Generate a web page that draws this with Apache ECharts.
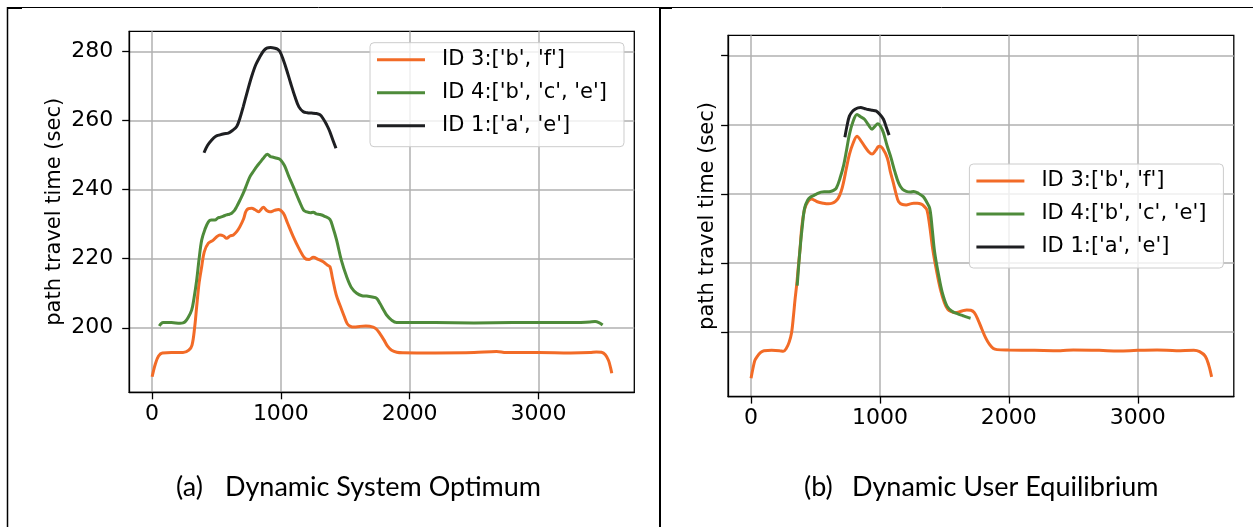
<!DOCTYPE html>
<html>
<head>
<meta charset="utf-8">
<script src="https://cdn.jsdelivr.net/npm/echarts@6/dist/echarts.min.js"></script>
<style>
  html, body { margin: 0; padding: 0; background: #fff; }
  #main { width: 1253px; height: 527px; }
</style>
</head>
<body>
<div id="main"></div>
<script>
// Axis ticks and labels
const xTicks = [0, 1000, 2000, 3000];
const yTicks = [200, 220, 240, 260, 280];
const pathNames = ["ID 3:['b', 'f']", "ID 4:['b', 'c', 'e']", "ID 1:['a', 'e']"];
const captionTags = ['(a)', '(b)'];
const captionTitles = ['Dynamic System Optimum', 'Dynamic User Equilibrium'];
const yName = 'path travel time (sec)';

// (a) Dynamic System Optimum: [departure time, path travel time]
const soPath3 = [
  [0, 185.8], [25, 189.5], [50, 191.8], [80, 192.7], [150, 192.8], [240, 192.8], [285, 193.5],
  [310, 195], [330, 200], [346, 206.1], [365, 213], [385, 217.7], [405, 222], [437, 224.5],
  [475, 225.4], [500, 226.3], [527, 226.9], [555, 226.6], [579, 225.9], [605, 226.6], [631, 226.9],
  [660, 228], [682, 229.3], [710, 231.5], [734, 234.1], [773, 234.6], [800, 234.2], [825, 233.6],
  [864, 234.9], [890, 234.0], [915, 233.6], [950, 234.0], [980, 234.3], [1019, 233.2], [1050, 230.5],
  [1096, 226.4], [1140, 223], [1187, 220.1], [1220, 219.8], [1252, 220.4], [1290, 219.8], [1329, 219.1],
  [1360, 218.2], [1381, 217.7], [1400, 214.5], [1430, 209.5], [1459, 206.5], [1490, 203.5], [1515, 201.2],
  [1536, 200.5], [1570, 200.2], [1614, 200.4], [1660, 200.5], [1717, 200.2], [1745, 199.5], [1769, 198.3],
  [1800, 196.5], [1830, 194.6], [1860, 193.5], [1900, 192.9], [1950, 192.75], [2200, 192.7], [2500, 192.8],
  [2675, 193.1], [2750, 192.8], [3000, 192.8], [3250, 192.7], [3400, 192.8], [3450, 193.0], [3490, 192.9],
  [3520, 192.2], [3545, 190.5], [3560, 188.5], [3570, 186.8]
];
const soPath4 = [
  [56, 200.5], [70, 201.2], [87, 201.5], [150, 201.5], [217, 201.3], [240, 201.4], [255, 201.7],
  [280, 203], [307, 205.1], [325, 208.5], [346, 213.8], [365, 220], [385, 225.4], [410, 228.5],
  [437, 230.7], [460, 231.2], [488, 231.2], [510, 231.8], [527, 232], [550, 232.3], [579, 232.7],
  [600, 232.9], [618, 233.2], [640, 234], [657, 235.1], [680, 236.8], [708, 239], [735, 241.5],
  [760, 243.8], [790, 245.5], [812, 246.7], [840, 248], [864, 249.1], [895, 250.3], [920, 249.6],
  [941, 249.4], [970, 249.1], [993, 248.8], [1015, 247.8], [1032, 246.7], [1060, 244], [1096, 240.9],
  [1140, 237], [1176, 234.1], [1200, 233.6], [1230, 233.3], [1252, 233.5], [1275, 233], [1304, 232.8],
  [1340, 232.3], [1381, 231.4], [1405, 229], [1433, 225.4], [1470, 219.5], [1511, 214.8], [1550, 211.5],
  [1589, 210], [1630, 209.3], [1666, 209.2], [1710, 208.9], [1744, 208.5], [1770, 207], [1800, 205],
  [1821, 203.7], [1860, 202.2], [1899, 201.5], [1950, 201.5], [2200, 201.5], [2500, 201.4], [2800, 201.5],
  [3100, 201.5], [3300, 201.5], [3400, 201.7], [3440, 201.8], [3470, 201.5], [3499, 200.8]
];
const soPath1 = [
  [403, 250.7], [430, 252.8], [463, 254.4], [495, 255.5], [527, 255.9], [560, 256.2], [592, 256.4],
  [625, 257.2], [657, 258.3], [680, 260.5], [708, 264.1], [740, 268.5], [773, 272.8], [805, 276.2],
  [838, 278.6], [865, 280.2], [890, 281], [920, 281.2], [954, 281], [975, 280.7], [993, 280],
  [1020, 277.5], [1045, 274.7], [1075, 271], [1109, 267], [1140, 264], [1174, 262.6], [1205, 262.3],
  [1239, 262.2], [1270, 262.1], [1304, 261.7], [1330, 260.5], [1356, 258.8], [1375, 257.3], [1394, 255.4],
  [1428, 252]
];

// (b) Dynamic User Equilibrium: [departure time, path travel time]
const uePath3 = [
  [0, 186.6], [15, 189.5], [30, 191.8], [47, 192.9], [75, 194.1], [100, 194.6], [160, 194.7],
  [220, 194.6], [250, 194.4], [274, 195.3], [295, 197], [314, 199.7], [330, 205], [341, 209.3],
  [355, 214], [367, 218.9], [380, 224], [394, 230.5], [415, 235.5], [440, 237.7], [470, 238.5],
  [490, 238.2], [514, 237.7], [558, 237.3], [600, 237.1], [631, 237.3], [655, 237.8], [676, 238.7],
  [700, 240.8], [719, 243.6], [740, 247.5], [763, 251.4], [790, 254.5], [822, 256.7], [850, 255.5],
  [880, 253.8], [910, 252.3], [939, 251.5], [965, 252.5], [985, 253.6], [998, 253.8], [1020, 253.2],
  [1057, 250.4], [1080, 246.5], [1101, 243.6], [1125, 240], [1145, 237.7], [1175, 236.9], [1204, 236.8],
  [1235, 237.1], [1262, 237.3], [1290, 237.3], [1321, 237], [1345, 236.3], [1365, 235.3], [1385, 231],
  [1409, 224.1], [1440, 217.5], [1468, 212.5], [1500, 208.5], [1526, 206.6], [1555, 205.9], [1585, 205.6],
  [1630, 206], [1674, 206.4], [1705, 206.3], [1732, 205.6], [1760, 203.6], [1791, 200.8], [1820, 198.3],
  [1850, 196.4], [1880, 195.2], [1908, 194.9], [2000, 194.8], [2200, 194.7], [2400, 194.6], [2500, 194.8],
  [2700, 194.7], [2850, 194.5], [3000, 194.7], [3150, 194.8], [3300, 194.6], [3435, 194.7], [3480, 194.3],
  [3523, 193], [3550, 190.5], [3573, 187]
];
const uePath4 = [
  [358, 213.4], [370, 219.5], [385, 226], [396, 230], [415, 235.8], [440, 238.2], [462, 239.1],
  [484, 239.5], [510, 240], [543, 240.5], [580, 240.6], [616, 240.7], [640, 241], [661, 241.6],
  [690, 244.5], [719, 248.4], [740, 252.5], [763, 257.2], [790, 260.8], [822, 263], [850, 262.3],
  [880, 261.6], [910, 260], [939, 258.7], [960, 259.5], [984, 260.3], [1005, 259.5], [1027, 257.7],
  [1055, 254], [1086, 250.4], [1115, 246.5], [1145, 243.1], [1175, 241.3], [1204, 240.7], [1235, 240.5],
  [1262, 240.7], [1300, 240.1], [1336, 239.2], [1360, 237.8], [1386, 235.8], [1405, 230], [1424, 223.2],
  [1455, 216.5], [1483, 211.5], [1520, 207.5], [1556, 206.1], [1600, 205.3], [1644, 204.7], [1675, 204.3],
  [1703, 204]
];
const uePath1 = [
  [728, 256.4], [745, 259.8], [763, 262.5], [785, 263.8], [807, 264.5], [830, 264.9], [851, 265],
  [880, 264.7], [910, 264.4], [940, 264.2], [969, 264], [1000, 263], [1027, 261.6], [1050, 259.2],
  [1071, 257]
];

const colors = ['#f26b27', '#4e8b3a', '#1e1f22'];
const tickFont = 'DejaVu Sans';

function makeX(gridIndex) {
  return {
    type: 'value', gridIndex, min: -178, max: 3745,
    axisLine: { show: true, onZero: false, lineStyle: { color: '#000', width: 1.3 } },
    axisTick: { show: true, customValues: xTicks, length: 7, lineStyle: { color: '#000', width: 1.3 } },
    axisLabel: {
      customValues: xTicks, fontSize: 22, fontFamily: tickFont, color: '#000', margin: 11,
      formatter: (v) => String(v)
    },
    splitLine: { show: true, lineStyle: { color: '#b0b0b0', width: 1.5 } }
  };
}
function makeY(gridIndex, showLabels, nameGap) {
  return {
    type: 'value', gridIndex, min: 181.3, max: 285.9,
    name: yName, nameLocation: 'middle', nameGap,
    nameTextStyle: { fontSize: 21, fontFamily: tickFont, color: '#000' },
    axisLine: { show: true, onZero: false, lineStyle: { color: '#000', width: 1.3 } },
    axisTick: { show: true, customValues: yTicks, length: 7, lineStyle: { color: '#000', width: 1.3 } },
    axisLabel: {
      show: showLabels, customValues: yTicks, fontSize: 22, fontFamily: tickFont, color: '#000', margin: 16,
      formatter: (v) => String(v)
    },
    splitLine: { show: true, lineStyle: { color: '#b0b0b0', width: 1.5 } }
  };
}
function makeLegend(left, top) {
  return {
    orient: 'vertical', left, top, data: pathNames,
    icon: 'rect', itemWidth: 48, itemHeight: 3, itemGap: 11,
    itemStyle: { borderWidth: 0 },
    padding: [6, 17, 10, 7],
    backgroundColor: 'rgba(255,255,255,0.8)', borderColor: '#cccccc', borderWidth: 1, borderRadius: 4,
    textStyle: { fontSize: 21, fontFamily: tickFont, color: '#000', lineHeight: 22, padding: [0, 0, 0, 12] },
    selectedMode: false
  };
}
function makeLine(name, data, color, axisIndex) {
  return {
    type: 'line', name, data, xAxisIndex: axisIndex, yAxisIndex: axisIndex,
    showSymbol: false, symbol: 'none', smooth: 0.35, animation: false,
    itemStyle: { color }, lineStyle: { color, width: 3 }
  };
}

const captionFont = 'Lato';
function caption(text, x) {
  return {
    type: 'text', left: x, top: 490 - 16,
    style: { text, fontSize: 27, fontFamily: captionFont, fill: '#000', textVerticalAlign: 'top' }
  };
}

const chart = echarts.init(document.getElementById('main'), null, { renderer: 'canvas' });
chart.setOption({
  animation: false,
  backgroundColor: '#fff',
  grid: [
    { left: 129.2, top: 31.3, width: 505.1, height: 361, show: true, borderColor: '#000', borderWidth: 1.3, backgroundColor: 'transparent' },
    { left: 728.1, top: 35.3, width: 505.7, height: 361.3, show: true, borderColor: '#000', borderWidth: 1.3, backgroundColor: 'transparent' }
  ],
  xAxis: [makeX(0), makeX(1)],
  yAxis: [makeY(0, true, 64), makeY(1, false, 10)],
  legend: [makeLegend(370, 42.7), makeLegend(969.4, 164)],
  series: [
    makeLine(pathNames[0], soPath3, colors[0], 0),
    makeLine(pathNames[1], soPath4, colors[1], 0),
    makeLine(pathNames[2], soPath1, colors[2], 0),
    makeLine(pathNames[0], uePath3, colors[0], 1),
    makeLine(pathNames[1], uePath4, colors[1], 1),
    makeLine(pathNames[2], uePath1, colors[2], 1)
  ],
  graphic: [
    { type: 'line', shape: { x1: 7, y1: 7.5, x2: 1253, y2: 7.5 }, style: { stroke: '#000', lineWidth: 1 } },
    { type: 'line', shape: { x1: 7.5, y1: 7, x2: 7.5, y2: 527 }, style: { stroke: '#000', lineWidth: 1.5 } },
    { type: 'line', shape: { x1: 660, y1: 7, x2: 660, y2: 527 }, style: { stroke: '#000', lineWidth: 2 } },
    { type: 'rect', shape: { x: 7, y: 7, width: 15, height: 2 }, style: { fill: '#000' } },
    { type: 'rect', shape: { x: 660, y: 7, width: 12, height: 2 }, style: { fill: '#000' } },
    caption(captionTags[0], 176),
    caption(captionTitles[0], 225),
    caption(captionTags[1], 804),
    caption(captionTitles[1], 852)
  ]
});
</script>
</body>
</html>
